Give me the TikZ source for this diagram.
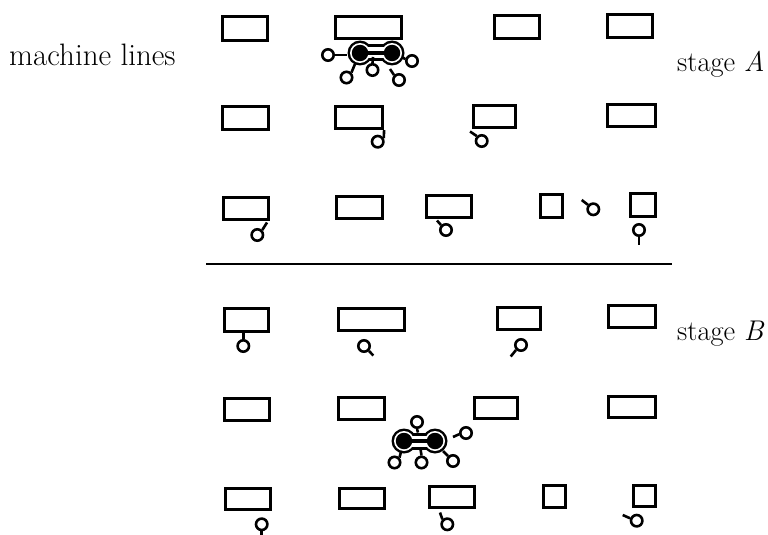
\documentclass[tikz,border=0pt]{standalone}
\begin{document}
\begin{tikzpicture}[x=1pt,y=-1pt,
  mbox/.style 2 args={draw, line width=3.2pt, inner sep=0pt, minimum width=#1-0.5pt, minimum height=#2-0.5pt},
  ring/.style={draw, circle, line width=2.6pt, inner sep=0pt, minimum size=11.4pt},
  stick/.style={line width=2.6pt},
  blackdot/.style={fill, circle, inner sep=0pt, minimum size=16.5pt},
  label/.style={anchor=base west, inner sep=0pt}]
\useasboundingbox (0,0) rectangle (768,535);

% two machines joined in one working unit
\newcommand\workunit[3]{%
  \fill (#1,#3) circle (12.5); \fill (#2,#3) circle (12.5);
  \fill (#1,#3-8.5) rectangle (#2,#3+8.5);
  \fill[white] (#1,#3) circle (10); \fill[white] (#2,#3) circle (10);
  \fill[white] (#1,#3-5.5) rectangle (#2,#3+5.5);
  \fill (#1,#3-2) rectangle (#2,#3+2);
}

% labels
\node[label, font=\fontsize{31}{36}\selectfont] (tml) at (9,65.5) {machine lines};
\node[label, font=\fontsize{28.5}{33}\selectfont] (tsa) at (677,71) {stage \textit{A}};
\node[label, font=\fontsize{28.5}{33}\selectfont] (tsb) at (677,340) {stage \textit{B}};

% ---------------- stage A ----------------
\node[mbox={45.5}{24.5}] (a11) at (245,28.5) {};
\node[mbox={66.5}{22.5}] (a12) at (368.5,27.5) {};
\node[mbox={45.5}{23.5}] (a13) at (517,27) {};
\node[mbox={45.5}{23.5}] (a14) at (630,26) {};

\node[mbox={46.5}{23.5}] (a21) at (245.5,118) {};
\node[mbox={47.5}{22.5}] (a22) at (359,117.5) {};
\node[mbox={42.5}{22.5}] (a23) at (494.5,116.5) {};
\node[mbox={48.5}{22.5}] (a24) at (631.5,115.5) {};

\node[mbox={45.5}{22.5}] (a31) at (246,208.5) {};
\node[mbox={46.5}{22.5}] (a32) at (359.5,207.5) {};
\node[mbox={45.5}{22.5}] (a33) at (449,206.5) {};
\node[mbox={22.5}{23.5}] (a34) at (551.5,206) {};
\node[mbox={25.5}{23.5}] (a35) at (643,205) {};

% operators of stage A
\node[ring] (ra22) at (377.7,141.7) {};
\node[ring] (ra23) at (481.7,141) {};
\node[ring] (ra31) at (257.3,235) {};
\node[ring] (ra33) at (446,230) {};
\node[ring] (ra34) at (593.3,209.3) {};
\node[ring] (ra35) at (639,230) {};
\coordinate (ea23) at (470,131.5);
\coordinate (ea31) at (267,222.5);
\coordinate (ea33) at (437,220.5);
\coordinate (ea34) at (581.7,200);
\coordinate (ea35) at (639,244.5);
\draw[stick] (a22.south east) -- (ra22.30);
\draw[stick] (ea23) -- (ra23.135);
\draw[stick] (ea31) -- (ra31.45);
\draw[stick] (ea33) -- (ra33.135);
\draw[stick] (ea34) -- (ra34.140);
\draw[stick] (ea35) -- (ra35.south);

% working unit of stage A with its crew
\workunit{360}{392}{53}
\node[blackdot] (ua1) at (360,53) {};
\node[blackdot] (ua2) at (392,53) {};
\node[ring] (ka1) at (328,55) {};
\node[ring] (ka2) at (346.5,77.5) {};
\node[ring] (ka3) at (372.5,70) {};
\node[ring] (ka4) at (399,80) {};
\node[ring] (ka5) at (412,61) {};
\coordinate (ja1) at (347,55);
\coordinate (ja2) at (355,64);
\coordinate (ja3) at (373,57);
\coordinate (ja4) at (390,69);
\coordinate (ja5) at (403,57.5);
\draw[stick] (ka1.east) -- (ja1);
\draw[stick] (ka2.45) -- (ja2);
\draw[stick] (ka3.north) -- (ja3);
\draw[stick] (ka4.135) -- (ja4);
\draw[stick] (ka5.165) -- (ja5);

% divider
\coordinate (d1) at (206,264);
\coordinate (d2) at (672,264);
\draw[line width=2.4pt] (d1) -- (d2);

% ---------------- stage B ----------------
\node[mbox={44.5}{23.5}] (b11) at (246.5,320) {};
\node[mbox={66.5}{22.5}] (b12) at (371.5,319.5) {};
\node[mbox={43.5}{22.5}] (b13) at (519,318.5) {};
\node[mbox={47.5}{22.5}] (b14) at (632,316.5) {};

\node[mbox={45.5}{22.5}] (b21) at (247,409.5) {};
\node[mbox={46.5}{22.5}] (b22) at (361.5,408.5) {};
\node[mbox={43.5}{21.5}] (b23) at (496,408) {};
\node[mbox={47.5}{21.5}] (b24) at (632,407) {};

\node[mbox={45.5}{21.5}] (b31) at (248,499) {};
\node[mbox={45.5}{20.5}] (b32) at (362,498.5) {};
\node[mbox={45.5}{21.5}] (b33) at (452,497) {};
\node[mbox={22.5}{22.5}] (b34) at (554.5,496.5) {};
\node[mbox={22.5}{21.5}] (b35) at (644.5,496) {};

% operators of stage B
\node[ring] (rb11) at (243.3,346) {};
\node[ring] (rb12) at (364,346) {};
\node[ring] (rb13) at (521,345) {};
\node[ring] (rb31) at (261.7,524.3) {};
\node[ring] (rb33) at (447.3,524.3) {};
\node[ring] (rb35) at (636.7,520.7) {};
\coordinate (eb12) at (373.3,355.5);
\coordinate (eb13) at (510.7,356.5);
\coordinate (eb31) at (261.7,535);
\coordinate (eb33) at (440,512.5);
\coordinate (eb35) at (622.7,515);
\draw[stick] (rb11.north) -- (rb11.north |- b11.south);
\draw[stick] (rb12.-45) -- (eb12);
\draw[stick] (rb13.-135) -- (eb13);
\draw[stick] (rb31.south) -- (eb31);
\draw[stick] (eb33) -- (rb33.135);
\draw[stick] (eb35) -- (rb35.160);

% working unit of stage B with its crew
\workunit{404}{435}{441}
\node[blackdot] (ub1) at (404,441) {};
\node[blackdot] (ub2) at (435,441) {};
\node[ring] (kb1) at (417,422) {};
\node[ring] (kb2) at (466,433) {};
\node[ring] (kb3) at (394.5,462.5) {};
\node[ring] (kb4) at (421.5,462.5) {};
\node[ring] (kb5) at (453,461) {};
\coordinate (jb1) at (418,432.5);
\coordinate (jb2) at (453,437);
\coordinate (jb3) at (401,452);
\coordinate (jb4) at (420.5,449);
\coordinate (jb5) at (443,451);
\draw[stick] (kb1.south) -- (jb1);
\draw[stick] (kb2.190) -- (jb2);
\draw[stick] (kb3.45) -- (jb3);
\draw[stick] (kb4.north) -- (jb4);
\draw[stick] (kb5.135) -- (jb5);
\end{tikzpicture}
\end{document}
